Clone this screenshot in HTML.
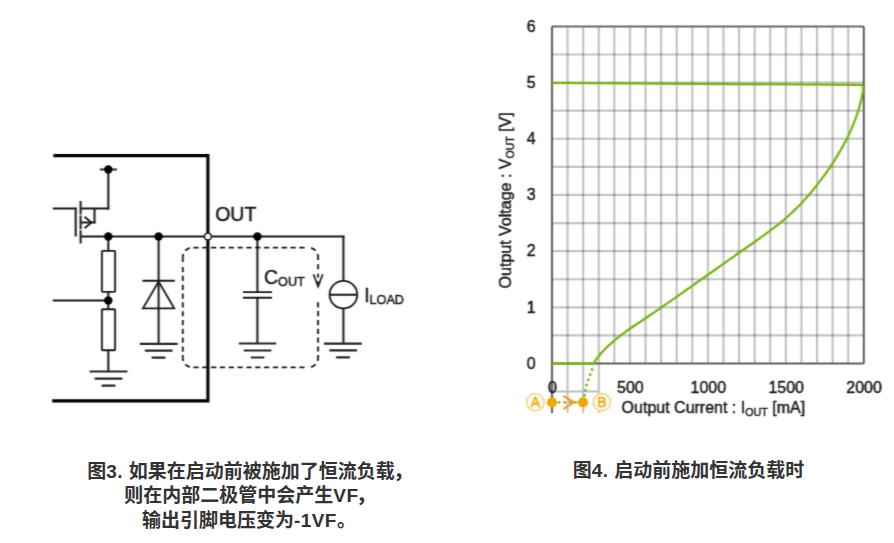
<!DOCTYPE html>
<html lang="zh-CN">
<head>
<meta charset="utf-8">
<title>图3 / 图4</title>
<style>
html,body{margin:0;padding:0;background:#fff;}
body{width:894px;height:543px;position:relative;overflow:hidden;font-family:"Liberation Sans","Noto Sans CJK SC",sans-serif;}
svg{position:absolute;left:0;top:0;display:block;}
svg text{font-family:"Liberation Sans","Noto Sans CJK SC",sans-serif;fill:#1a1a1a;stroke:#1a1a1a;stroke-width:0.45px;}
.cap{position:absolute;text-align:center;font-weight:bold;font-size:19px;line-height:24.6px;color:#333;white-space:nowrap;margin:0;}
#cap3{left:0;width:499.4px;top:459.9px;}
#cap4{left:488px;width:400.8px;top:459px;}
.cap span{letter-spacing:0.45px;}
.cap b{margin-left:-1.5px;}
.cap b.c2{margin-left:-2.4px;}
.cap i{font-style:normal;margin-right:1.5px;}
</style>
</head>
<body>
<svg width="894" height="543" viewBox="0 0 894 543">
<defs><filter id="soft" x="0" y="0" width="894" height="543" filterUnits="userSpaceOnUse" color-interpolation-filters="sRGB"><feConvolveMatrix order="3 3" kernelMatrix="0.0210 0.0580 0.0210 0.1680 0.4640 0.1680 0.0210 0.0580 0.0210" divisor="1" edgeMode="duplicate" preserveAlpha="false"/></filter></defs>
<g filter="url(#soft)">
<!-- ========== circuit ========== -->
<g fill="none" stroke="#000" stroke-width="3.1" stroke-linecap="butt" stroke-linejoin="miter">
  <path d="M53.4,155.6 H207.9 V400.9 H52.2"/>
</g>
<g fill="none" stroke="#1a1a1a" stroke-width="2.05">
  <!-- vertical wires -->
  <path d="M108.3,169.5 V209.4 M75.7,207.7 V236.6 M94.5,207.7 V223.3 M343.4,235.7 V281 M108.3,236.5 V250.8 M108.3,291.8 V309.2 M108.3,350.2 V371.5 M158.6,236.5 V343.8 M257.4,236.5 V292 M257.4,297.6 V343.5 M343.4,308.3 V343.6"/>
  <path d="M80.6,201 V214.5 M80.6,215.5 V229.3 M80.6,230.3 V243.6"/>
</g>
<g fill="none" stroke="#1a1a1a" stroke-width="1.9">
  <!-- horizontal wires -->
  <path d="M99.8,169.5 H117" stroke-width="2.1" stroke="#3a3a3a"/>
  <path d="M109.3,208.5 H80.6 M52.8,208.5 H76.7 M95.5,222.5 H80.6 M80.6,236.5 H344.4 M52.8,300.5 H108.3 M142.4,280.8 H174.8 M243,292.1 H272 M243,297.7 H272 M329.6,294.7 H357.2"/>
</g>
<g fill="none" stroke="#1a1a1a" stroke-width="1.85">
  <path d="M84.6,216.8 L91.4,222.5 L84.6,228.3"/>
  <rect x="101.9" y="250.8" width="13.2" height="41" rx="0.8"/>
  <rect x="101.9" y="309.2" width="13.2" height="41" rx="0.8"/>
  <path d="M89.5,371.5 H127.5 M94.6,378.6 H122.4 M101.6,385.6 H115.4" stroke-width="2.2" stroke="#262626"/>
  <path d="M158.6,281.5 L174.2,308.4 H143 Z"/>
  <path d="M139.8,343.8 H177.6 M144.9,350.7 H172.5 M151.7,357.7 H165.5" stroke-width="2.2" stroke="#262626"/>
  <path d="M238.8,343.5 H276.2 M243.8,350.5 H271.4 M250.9,357.5 H264.3" stroke-width="2.2" stroke="#262626"/>
  <circle cx="343.4" cy="294.7" r="13.8"/>
  <path d="M324,343.6 H361.8 M329.4,350.4 H357.1 M336.1,357.4 H349.9" stroke-width="2.2" stroke="#262626"/>
  <!-- dashed box -->
  <path d="M193.40,247.6 H198.60 M193.40,367.4 H198.60 M202.23,247.6 H207.43 M202.23,367.4 H207.43 M211.06,247.6 H216.26 M211.06,367.4 H216.26 M219.89,247.6 H225.09 M219.89,367.4 H225.09 M228.72,247.6 H233.92 M228.72,367.4 H233.92 M237.55,247.6 H242.75 M237.55,367.4 H242.75 M246.38,247.6 H251.58 M246.38,367.4 H251.58 M255.21,247.6 H260.41 M255.21,367.4 H260.41 M264.04,247.6 H269.24 M264.04,367.4 H269.24 M272.87,247.6 H278.07 M272.87,367.4 H278.07 M281.70,247.6 H286.90 M281.70,367.4 H286.90 M290.53,247.6 H295.73 M290.53,367.4 H295.73 M299.36,247.6 H304.56 M299.36,367.4 H304.56 M182.8,267.05 V272.25 M182.8,275.87 V281.07 M182.8,284.69 V289.89 M182.8,293.51 V298.71 M182.8,302.33 V307.53 M182.8,311.15 V316.35 M182.8,319.97 V325.17 M182.8,328.79 V333.99 M182.8,337.61 V342.81 M182.8,346.43 V351.63 M318.1,346.40 V351.60 M318.1,337.58 V342.78 M318.1,328.76 V333.96 M318.1,319.94 V325.14 M318.1,311.12 V316.32 M318.1,302.30 V307.50 M318.1,264.2 V269.3 M189.84,247.92 A9.5,9.5 0 0 0 185.35,250.62 M183.32,254.01 A9.5,9.5 0 0 0 182.80,257.10 V262.10 M311.06,247.92 A9.5,9.5 0 0 1 315.55,250.62 M317.58,254.01 A9.5,9.5 0 0 1 318.10,257.10 V260.10 M189.84,367.08 A9.5,9.5 0 0 1 185.35,364.38 M183.32,360.99 A9.5,9.5 0 0 1 182.80,357.90 V354.90 M311.06,367.08 A9.5,9.5 0 0 0 315.55,364.38 M317.58,360.99 A9.5,9.5 0 0 0 318.10,357.90 V354.90"/>
  <path d="M318.1,273.6 V277.6"/>
  <path d="M313.5,274.3 L318.1,286.6 L322.7,274.3" stroke-width="1.7"/>
  <path d="M316.7,281.6 H319.5 L318.1,286.8 Z" fill="#1c1c1c" stroke="none"/>
</g>
<g fill="#000" stroke="none">
  <circle cx="108.3" cy="169.5" r="4.2"/>
  <circle cx="108.3" cy="236.5" r="4.2"/>
  <circle cx="158.6" cy="236.5" r="4.2"/>
  <circle cx="257.4" cy="236.5" r="4.2"/>
  <circle cx="108.3" cy="300.5" r="4.2"/>
</g>
<circle cx="207.9" cy="236.5" r="3.4" fill="#fff" stroke="#111" stroke-width="1.4"/>
<g font-size="19.5" style="stroke-width:0.1px">
  <text x="215.2" y="221.4">OUT</text>
  <text x="264" y="284">C<tspan font-size="12.6" dy="1.6">OUT</tspan></text>
  <text x="364.2" y="301.6">I<tspan font-size="12.6" dy="2.2">LOAD</tspan></text>
</g>

<!-- ========== chart ========== -->
<g fill="none" stroke="#000" stroke-opacity="0.26" stroke-width="2">
<line x1="567.59" y1="26.4" x2="567.59" y2="363.5"/>
<line x1="583.18" y1="26.4" x2="583.18" y2="363.5"/>
<line x1="598.77" y1="26.4" x2="598.77" y2="363.5"/>
<line x1="614.36" y1="26.4" x2="614.36" y2="363.5"/>
<line x1="629.95" y1="26.4" x2="629.95" y2="363.5"/>
<line x1="645.54" y1="26.4" x2="645.54" y2="363.5"/>
<line x1="661.13" y1="26.4" x2="661.13" y2="363.5"/>
<line x1="676.72" y1="26.4" x2="676.72" y2="363.5"/>
<line x1="692.31" y1="26.4" x2="692.31" y2="363.5"/>
<line x1="707.90" y1="26.4" x2="707.90" y2="363.5"/>
<line x1="723.49" y1="26.4" x2="723.49" y2="363.5"/>
<line x1="739.08" y1="26.4" x2="739.08" y2="363.5"/>
<line x1="754.67" y1="26.4" x2="754.67" y2="363.5"/>
<line x1="770.26" y1="26.4" x2="770.26" y2="363.5"/>
<line x1="785.85" y1="26.4" x2="785.85" y2="363.5"/>
<line x1="801.44" y1="26.4" x2="801.44" y2="363.5"/>
<line x1="817.03" y1="26.4" x2="817.03" y2="363.5"/>
<line x1="832.62" y1="26.4" x2="832.62" y2="363.5"/>
<line x1="848.21" y1="26.4" x2="848.21" y2="363.5"/>
<line x1="552.0" y1="54.49" x2="863.8" y2="54.49" stroke-width="2.2" stroke-opacity="0.23"/>
<line x1="552.0" y1="82.58" x2="863.8" y2="82.58" stroke-width="2.2" stroke-opacity="0.23"/>
<line x1="552.0" y1="110.68" x2="863.8" y2="110.68" stroke-width="2.2" stroke-opacity="0.23"/>
<line x1="552.0" y1="138.77" x2="863.8" y2="138.77" stroke-width="2.2" stroke-opacity="0.23"/>
<line x1="552.0" y1="166.86" x2="863.8" y2="166.86" stroke-width="2.2" stroke-opacity="0.23"/>
<line x1="552.0" y1="194.95" x2="863.8" y2="194.95" stroke-width="2.2" stroke-opacity="0.23"/>
<line x1="552.0" y1="223.04" x2="863.8" y2="223.04" stroke-width="2.2" stroke-opacity="0.23"/>
<line x1="552.0" y1="251.13" x2="863.8" y2="251.13" stroke-width="2.2" stroke-opacity="0.23"/>
<line x1="552.0" y1="279.23" x2="863.8" y2="279.23" stroke-width="2.2" stroke-opacity="0.23"/>
<line x1="552.0" y1="307.32" x2="863.8" y2="307.32" stroke-width="2.2" stroke-opacity="0.23"/>
<line x1="552.0" y1="335.41" x2="863.8" y2="335.41" stroke-width="2.2" stroke-opacity="0.23"/>
  <path d="M567.6,363.5 V413 M583.2,363.5 V413 M598.8,363.5 V413 M552,391.5 H598.8"/>
</g>
<g fill="none" stroke="#6c6c6c" stroke-width="2" stroke-linejoin="round">
  <path d="M552,26.4 H863.8"/>
  <path d="M552,413 V26.4 M863.8,26.4 V363.5" stroke="#484848" stroke-width="1.8"/>
  <path d="M552,363.5 H863.8" stroke-width="2" stroke="#606060"/>
</g>
<path d="M552,363.5 L593.6,363.5 596.7,358.7 600.2,354.2 604.0,350.0 608.0,346.1 612.2,342.3 616.6,338.7 621.1,335.2 625.6,331.8 630.3,328.5 635.0,325.3 639.7,322.1 644.4,319.0 649.2,315.8 653.9,312.6 658.6,309.4 663.3,306.1 668.0,302.9 672.6,299.6 677.3,296.4 681.9,293.1 686.6,289.8 691.2,286.6 695.8,283.3 700.5,280.0 705.1,276.7 709.7,273.5 714.4,270.2 719.0,266.9 723.7,263.6 728.3,260.4 733.0,257.1 737.6,253.8 742.3,250.5 746.9,247.2 751.6,244.0 756.3,240.7 760.9,237.4 765.5,234.1 770.1,230.7 774.6,227.3 779.1,223.8 783.5,220.2 787.8,216.5 791.9,212.6 796.0,208.7 800.0,204.7 803.9,200.5 807.7,196.3 811.4,192.0 815.0,187.6 818.5,183.1 821.9,178.6 825.3,174.0 828.6,169.3 831.7,164.6 834.8,159.8 837.8,154.9 840.7,150.0 843.4,145.1 846.1,140.0 848.6,135.0 851.0,129.8 853.2,124.6 855.3,119.3 857.2,114.0 858.9,108.6 860.4,103.1 861.8,97.6 862.9,92.0 L863.3,88.6 L862.9,86.2 L861.6,84.9 L552,82.8" fill="none" stroke="#74b60e" stroke-width="2.3" stroke-linejoin="round"/>
<g fill="#74b60e"><circle cx="592.1" cy="369.7" r="1.4"/><circle cx="590.2" cy="374.7" r="1.4"/><circle cx="588.3" cy="379.8" r="1.4"/><circle cx="586.6" cy="385" r="1.4"/><circle cx="585.5" cy="390.3" r="1.4"/><circle cx="584.5" cy="395.4" r="1.4"/></g>
<g fill="#74b60e"><circle cx="559.1" cy="402.3" r="1.4"/><circle cx="564.7" cy="402.3" r="1.4"/><circle cx="570.2" cy="402.3" r="1.4"/><circle cx="575.7" cy="402.3" r="1.4"/></g>
<path d="M563.3,395.8 L574,402.3 L563.3,408.8" fill="none" stroke="#f39a12" stroke-width="2.1"/>
<circle cx="552" cy="402.3" r="5.1" fill="#f7a600"/>
<circle cx="583" cy="402.3" r="5.1" fill="#f7a600"/>
<circle cx="535.4" cy="402.3" r="8.6" fill="#fff" stroke="#fbd38b" stroke-width="1.8"/>
<circle cx="601.9" cy="402.3" r="8.6" fill="#fff" stroke="#fbd38b" stroke-width="1.8"/>
<g font-size="14" style="fill:#f7a600">
  <text x="535.4" y="406.9" text-anchor="middle" style="fill:#f7a600;stroke:#f7a600;stroke-width:0.5">A</text>
  <text x="601.9" y="406.9" text-anchor="middle" style="fill:#f7a600;stroke:#f7a600;stroke-width:0.5">B</text>
</g>
<g font-size="16">
<text x="531.2" y="368.8" text-anchor="middle">0</text>
<text x="531.2" y="312.6" text-anchor="middle">1</text>
<text x="531.2" y="256.4" text-anchor="middle">2</text>
<text x="531.2" y="200.2" text-anchor="middle">3</text>
<text x="531.2" y="144.1" text-anchor="middle">4</text>
<text x="531.2" y="87.9" text-anchor="middle">5</text>
<text x="531.2" y="31.7" text-anchor="middle">6</text>
<text x="552.5" y="392.7" text-anchor="middle">0</text>
<text x="630.4" y="392.7" text-anchor="middle">500</text>
<text x="708.3" y="392.7" text-anchor="middle">1000</text>
<text x="786.2" y="392.7" text-anchor="middle">1500</text>
<text x="864.1" y="392.7" text-anchor="middle">2000</text>
  <text x="621.6" y="412.9">Output Current : I<tspan font-size="10.7" dy="3.4">OUT</tspan><tspan dy="-3.4"> [mA]</tspan></text>
  <text transform="translate(510.8,288.4) rotate(-90)">Output Voltage : V<tspan font-size="10.5" dy="3.6">OUT</tspan><tspan dy="-3.6"> [V]</tspan></text>
</g>
</g>
</svg>
<p class="cap" id="cap3">图<span>3. </span>如果在启动前被施加了恒流负载<b>，</b><br>则在内部二极管中会产生<span>VF</span><b class="c2">，</b><br>输出引脚电压变为<span>-1VF</span><i>。</i></p>
<p class="cap" id="cap4">图<span>4. </span>启动前施加恒流负载时</p>
</body>
</html>
